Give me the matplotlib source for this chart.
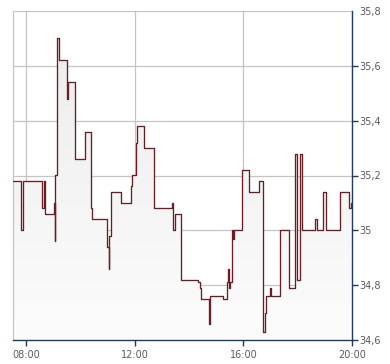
"""
Intraday price step chart (right axis, comma decimals).
"""

import matplotlib

matplotlib.use("Agg")
import matplotlib.pyplot as plt
import numpy as np
from matplotlib.ticker import FuncFormatter, MultipleLocator

# Trade times and prices (value holds from that time on).
times = [
    "07:31", "07:48", "07:54", "08:36", "08:40", "08:42", "09:02", "09:03",
    "09:04", "09:09", "09:12", "09:31", "09:32", "09:48", "10:11", "10:24",
    "10:26", "10:58", "11:03", "11:04", "11:07", "11:29", "11:51", "11:54",
    "12:03", "12:05", "12:21", "12:42", "13:22", "13:24", "13:30", "13:42",
    "14:20", "14:24", "14:26", "14:45", "14:47", "15:16", "15:23", "15:27",
    "15:28", "15:30", "15:34", "15:38", "15:39", "15:58", "16:12", "16:34",
    "16:44", "16:48", "16:50", "16:59", "17:00", "17:22", "17:41", "17:54",
    "17:59", "18:05", "18:10", "18:38", "18:43", "18:57", "19:02", "19:33",
    "19:54", "19:58",
]
prices = [
    35.18, 35.00, 35.18, 35.08, 35.18, 35.06, 35.10, 34.96,
    35.20, 35.70, 35.62, 35.48, 35.54, 35.26, 35.36, 35.08,
    35.04, 34.94, 34.86, 34.98, 35.14, 35.10, 35.16, 35.20,
    35.32, 35.38, 35.30, 35.08, 35.10, 35.00, 35.06, 34.82,
    34.81, 34.79, 34.75, 34.66, 34.76, 34.75, 34.81, 34.86,
    34.79, 34.81, 35.00, 34.97, 35.00, 35.22, 35.14, 35.18,
    34.63, 34.70, 34.76, 34.79, 34.76, 35.00, 34.79, 35.28,
    34.82, 35.28, 35.00, 35.04, 35.00, 35.14, 35.00, 35.14,
    35.08, 35.10,
]
end_time = "20:00"
x_ticks = ["08:00", "12:00", "16:00", "20:00"]
y_min, y_max, y_step = 34.6, 35.8, 0.2

LINE = "#6a1e24"
NAVY = "#1f3a63"
GRID = "#c4c4c4"
TEXT = "#5a5a5a"


def to_hours(s):
    h, m = s.split(":")
    return int(h) + int(m) / 60


x = np.array([to_hours(t) for t in times] + [to_hours(end_time)])
y = np.array(prices + [prices[-1]])

fig = plt.figure(figsize=(3.9, 3.64), dpi=100)
ax = fig.add_axes([13 / 390, 24 / 364, 339 / 390, 329 / 364])

ax.set_xlim(x[0], to_hours(end_time))
ax.set_ylim(y_min, y_max)

# Gradient fill under the line.
poly = ax.fill_between(x, y, y_min, step="post", facecolor="none", lw=0)
grad = np.linspace(0, 1, 256).reshape(-1, 1)
img = ax.imshow(
    grad,
    extent=[x[0], x[-1], y_min, y_max],
    origin="upper",
    aspect="auto",
    cmap=matplotlib.colors.LinearSegmentedColormap.from_list(
        "g", ["#ebebeb", "#fcfcfc"]
    ),
    zorder=1,
)
img.set_clip_path(poly.get_paths()[0], transform=ax.transData)

ax.plot(x, y, drawstyle="steps-post", color=LINE, lw=0.95, zorder=3)

# Axes styling.
ax.set_xticks([to_hours(t) for t in x_ticks])
ax.set_xticklabels(x_ticks)
ax.yaxis.set_major_locator(MultipleLocator(y_step))
ax.yaxis.set_major_formatter(
    FuncFormatter(lambda v, _: f"{v:.1f}".rstrip("0").rstrip(".").replace(".", ","))
)
ax.yaxis.tick_right()
ax.grid(True, color=GRID, lw=0.9, zorder=0)
ax.set_axisbelow(True)

ax.tick_params(axis="y", colors=NAVY, labelcolor=TEXT, labelsize=7, length=4, pad=1, width=1)
ax.tick_params(axis="x", colors=NAVY, labelcolor=TEXT, labelsize=7, length=4, pad=3, width=1)

# The top tick has no dash in the reference.
fig.canvas.draw()
for tick in ax.yaxis.get_major_ticks():
    if abs(tick.get_loc() - y_max) < 1e-6:
        tick.tick2line.set_visible(False)

ax.spines["top"].set_visible(False)
ax.spines["left"].set_color(GRID)
ax.spines["left"].set_linewidth(0.9)
ax.spines["right"].set_color(NAVY)
ax.spines["bottom"].set_color(NAVY)
ax.spines["right"].set_linewidth(1.0)
ax.spines["bottom"].set_linewidth(1.0)

fig.savefig("out.png", dpi=100)
